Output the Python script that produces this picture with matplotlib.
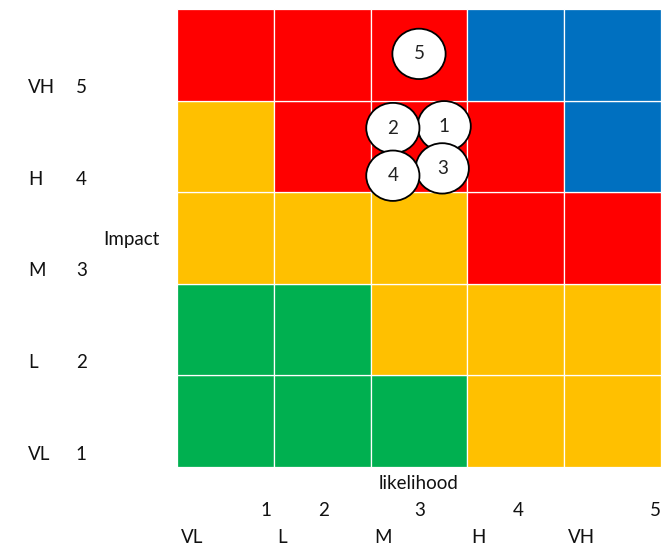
import matplotlib
matplotlib.use("Agg")
import matplotlib.pyplot as plt
from matplotlib.patches import Rectangle, Ellipse

plt.rcParams['font.family'] = ['Lato', 'DejaVu Sans']

# Risk matrix colours, rows listed from impact 1 (bottom) to 5 (top)
RED, BLUE, YELLOW, GREEN = "#FF0000", "#0070C0", "#FFC000", "#00B050"
grid_colors = [
    [GREEN, GREEN, GREEN, YELLOW, YELLOW],
    [GREEN, GREEN, YELLOW, YELLOW, YELLOW],
    [YELLOW, YELLOW, YELLOW, RED, RED],
    [YELLOW, RED, RED, RED, BLUE],
    [RED, RED, RED, BLUE, BLUE],
]

impact_levels = ["VL", "L", "M", "H", "VH"]
impact_scores = [1, 2, 3, 4, 5]
likelihood_levels = ["VL", "L", "M", "H", "VH"]
likelihood_scores = [1, 2, 3, 4, 5]

# Risks placed on the matrix: (id, likelihood position, impact position)
risk_ids = [1, 2, 3, 4, 5]
risk_likelihood = [2.76, 2.23, 2.74, 2.23, 2.50]
risk_impact = [3.72, 3.70, 3.26, 3.18, 4.51]

# Horizontal positions of the likelihood score labels
score_label_x = [0.92, 1.51, 2.51, 3.52, 4.94]

fig = plt.figure(figsize=(6.61, 5.47), dpi=100)
ax = fig.add_axes([177 / 661, 80 / 547, 484 / 661, 458 / 547])
ax.set_xlim(0, 5)
ax.set_ylim(0, 5)
ax.axis("off")

for r, row in enumerate(grid_colors):
    for c, col in enumerate(row):
        ax.add_patch(Rectangle((c, r), 1, 1, facecolor=col,
                               edgecolor="white", linewidth=0.9))

fs = 13.5
for rid, lx, iy in zip(risk_ids, risk_likelihood, risk_impact):
    ax.add_patch(Ellipse((lx, iy), 0.55, 0.55, facecolor="white",
                         edgecolor="black", linewidth=1.3, zorder=3))
    ax.text(lx, iy, str(rid), ha="center", va="center", fontsize=fs,
            color="#222222", zorder=4)

for i, (lvl, sc) in enumerate(zip(impact_levels, impact_scores)):
    y = i + 0.14
    ax.text(-1.54, y, lvl, ha="left", va="center", fontsize=fs,
            color="#111111", clip_on=False)
    ax.text(-0.99, y, str(sc), ha="center", va="center", fontsize=fs,
            color="#111111", clip_on=False)
ax.text(-0.76, 2.48, "Impact", ha="left", va="center", fontsize=fs,
        color="#111111", clip_on=False)

ax.text(2.5, -0.175, "likelihood", ha="center", va="center", fontsize=fs,
        color="#111111", clip_on=False)
for i, (lvl, sc, sx) in enumerate(zip(likelihood_levels, likelihood_scores,
                                      score_label_x)):
    ax.text(sx, -0.47, str(sc), ha="center", va="center", fontsize=fs,
            color="#111111", clip_on=False)
    ax.text(i + 0.04, -0.77, lvl, ha="left", va="center", fontsize=fs,
            color="#111111", clip_on=False)

fig.savefig("out.png", dpi=100, facecolor="white")
